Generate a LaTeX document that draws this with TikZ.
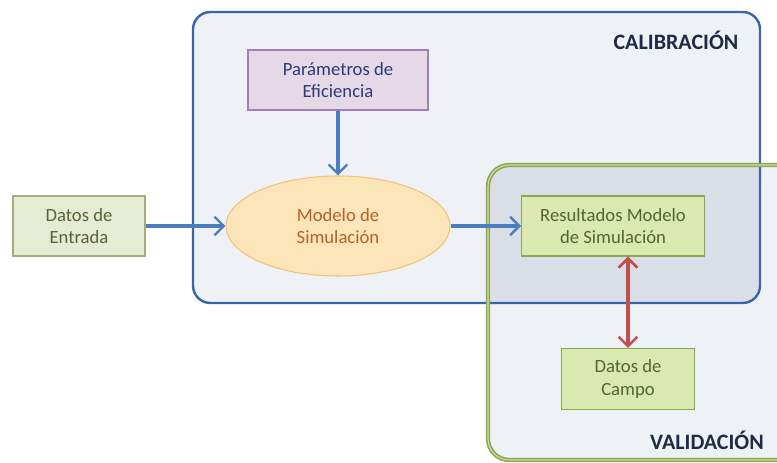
\documentclass[tikz,border=0pt]{standalone}
\usepackage{fontspec}
\setmainfont{Carlito}
\usepackage{tikz}
\usetikzlibrary{arrows.meta,shapes.geometric}
\definecolor{flecha}{HTML}{4A7EC0}
\definecolor{rojo}{HTML}{C0504D}
\definecolor{marco}{HTML}{3A64A8}
\definecolor{verde}{HTML}{9BBB59}
\definecolor{titulo}{HTML}{1F2A44}
\definecolor{fondo}{HTML}{EEF1F5}
\definecolor{sombra}{HTML}{B8C0D0}

\begin{document}
\begin{tikzpicture}[x=0.75pt,y=-0.75pt,font=\fontsize{14}{17}\selectfont,
                    >={Straight Barb[length=7pt,width=14pt,line width=1.8pt]},
                    caja/.style={rectangle,draw,line width=0.8pt,align=center,
                                 minimum height=45pt,inner sep=2pt},
                    dato/.style={caja,fill={rgb,255:red,230;green,235;blue,211},
                                 draw={rgb,255:red,160;green,176;blue,120},
                                 text={rgb,255:red,85;green,100;blue,55},minimum width=99pt},
                    resultado/.style={caja,fill={rgb,255:red,219;green,232;blue,176},
                                 draw=verde!90!black,
                                 text={rgb,255:red,85;green,100;blue,55}},
                    conector/.style={line width=2.4pt},
                    etiqueta/.style={font=\fontsize{16.5}{19}\selectfont\bfseries,text=titulo}]

\useasboundingbox (0,0) rectangle (777,463);
\clip (0,0) rectangle (777,463);

% zonas
\fill[rounded corners=13pt,fill=fondo] (193,12) rectangle (760,303);
\fill[rounded corners=16pt,fill=fondo] (488,165) rectangle (800,460);
\begin{scope}
  \clip[rounded corners=13pt] (193,12) rectangle (760,303);
  \fill[rounded corners=16pt,fill=sombra,opacity=0.36] (488,165) rectangle (800,460);
\end{scope}
\draw[rounded corners=13pt,draw=marco,line width=1.8pt] (193,12) rectangle (760,303);
\draw[rounded corners=16pt,draw=verde!90!black,line width=1.2pt,
      double=verde!50,double distance=0.8pt] (488,165) rectangle (800,460);

\node[etiqueta] (cal) at (676,40) {CALIBRACIÓN};
\node[etiqueta] (val) at (707,440) {VALIDACIÓN};

% bloques
\node[caja,fill={rgb,255:red,229;green,217;blue,232},
      draw={rgb,255:red,165;green,125;blue,185},
      text={rgb,255:red,43;green,58;blue,120},
      minimum width=135pt] (param) at (338,80) {Parámetros de\\Eficiencia};
\node[ellipse,draw={rgb,255:red,242;green,195;blue,120},
      fill={rgb,255:red,252;green,229;blue,184},line width=0.8pt,
      minimum width=168pt,minimum height=75pt,align=center,
      text={rgb,255:red,180;green,98;blue,42}] (modelo) at (338,226) {Modelo de\\Simulación};
\node[dato] (entrada) at (79,226) {Datos de\\Entrada};
\node[resultado,minimum width=137pt] (result) at (613,226) {Resultados Modelo\\de Simulación};
\node[resultado,minimum width=100pt,minimum height=46pt] (campo) at (628,379) {Datos de\\Campo};

\path[->,draw=flecha,conector]
    (param) edge (modelo)
    (entrada) edge (modelo)
    (modelo) edge (result);
\path[<->,draw=rojo,conector]
    (result.south -| campo.north) edge (campo.north);
\end{tikzpicture}
\end{document}
